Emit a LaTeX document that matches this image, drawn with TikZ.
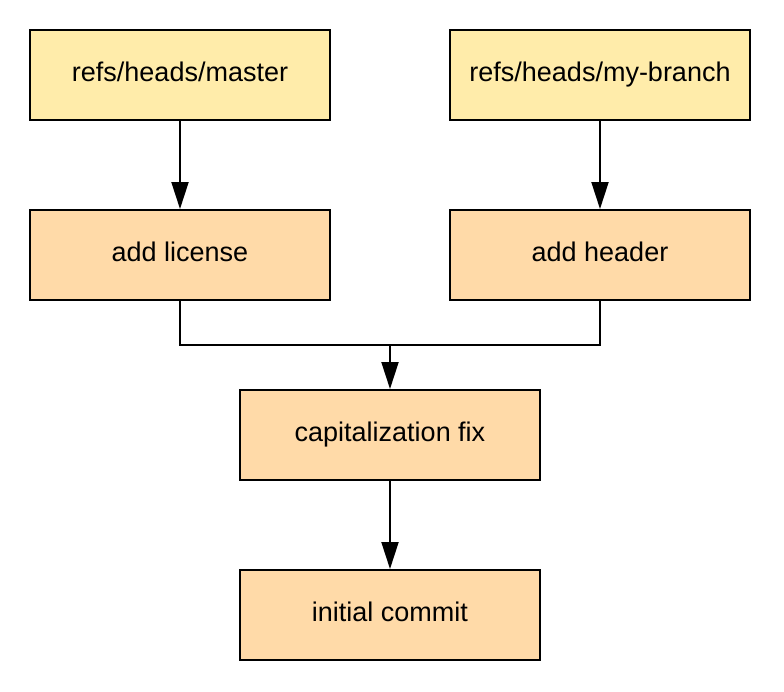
\documentclass[tikz,border=0pt]{standalone}
\usepackage{fontspec}
\setmainfont{Liberation Sans}
\usetikzlibrary{arrows.meta}

\definecolor{refyellow}{RGB}{255,236,170}
\definecolor{commitorange}{RGB}{255,218,168}

\begin{document}
\begin{tikzpicture}[x=0.5pt, y=-0.5pt, line width=1pt,
    font=\fontsize{13.5}{16}\selectfont,
    box/.style={draw=black, minimum width=150pt, minimum height=45pt, inner sep=0pt,
      text height=9.6pt, text depth=2.9pt},
    refbox/.style={box, fill=refyellow},
    commitbox/.style={box, fill=commitorange},
    arr/.style={-{Triangle[length=13.5pt, width=8.5pt]}}]
    \useasboundingbox (0,0) rectangle (784,692);
    % branch refs
    \node[refbox] (master) at (180,75) {refs/heads/master};
    \node[refbox] (mybranch) at (600,75) {refs/heads/my-branch};
    % commits
    \node[commitbox] (license) at (180,255) {add license};
    \node[commitbox] (header) at (600,255) {add header};
    \node[commitbox] (capfix) at (390,435) {capitalization fix};
    \node[commitbox] (initial) at (390,615) {initial commit};
    % parent links
    \coordinate (merge) at (390,345);
    \draw[arr] (master) -- (license);
    \draw[arr] (mybranch) -- (header);
    \draw (license.south) |- (merge);
    \draw (header.south) |- (merge);
    \draw[arr] (merge) -- (capfix.north);
    \draw[arr] (capfix) -- (initial);
  \end{tikzpicture}
\end{document}
